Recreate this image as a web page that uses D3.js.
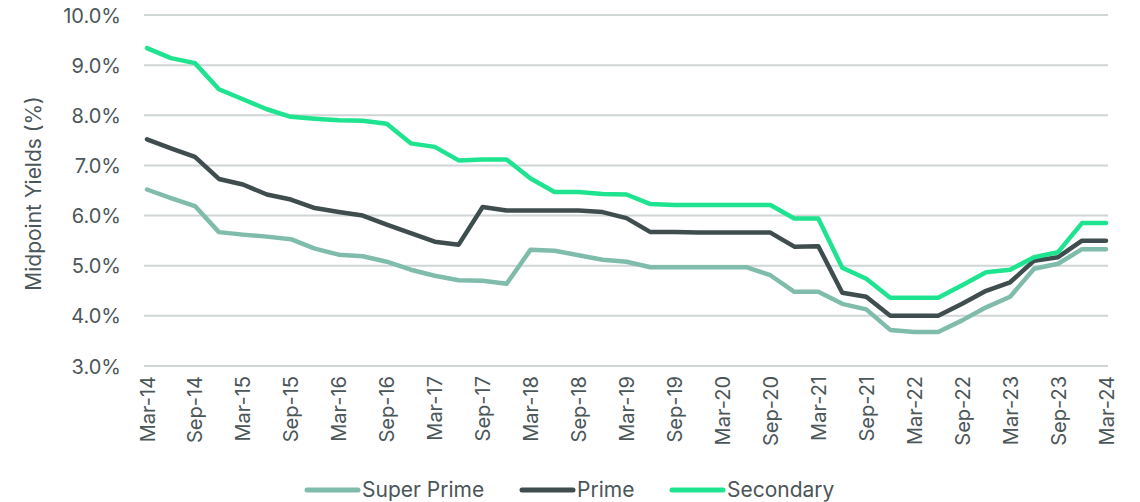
<!DOCTYPE html>
<html>
<head>
<meta charset="utf-8">
<script src="https://cdn.jsdelivr.net/npm/d3@7"></script>
<style>
  html, body { margin: 0; padding: 0; background: #ffffff; }
  svg { display: block; }
  text { font-family: "Inter", "Roboto", "Noto Sans", sans-serif; }
</style>
</head>
<body>
<svg id="chart" width="1140" height="502"></svg>
<script>
// Quarterly midpoint yields, Mar-14 to Mar-24
const quarters = [
  "Mar-14","Jun-14","Sep-14","Dec-14","Mar-15","Jun-15","Sep-15","Dec-15",
  "Mar-16","Jun-16","Sep-16","Dec-16","Mar-17","Jun-17","Sep-17","Dec-17",
  "Mar-18","Jun-18","Sep-18","Dec-18","Mar-19","Jun-19","Sep-19","Dec-19",
  "Mar-20","Jun-20","Sep-20","Dec-20","Mar-21","Jun-21","Sep-21","Dec-21",
  "Mar-22","Jun-22","Sep-22","Dec-22","Mar-23","Jun-23","Sep-23","Dec-23",
  "Mar-24"
];

const superPrime = [
  6.52, 6.35, 6.19, 5.67, 5.62, 5.58, 5.53, 5.34, 5.22, 5.19, 5.08,
  4.92, 4.80, 4.71, 4.70, 4.64, 5.32, 5.30, 5.21, 5.12, 5.08,
  4.97, 4.97, 4.97, 4.97, 4.97, 4.81, 4.48, 4.48, 4.24, 4.13,
  3.72, 3.68, 3.68, 3.91, 4.17, 4.38, 4.94, 5.04, 5.33, 5.33
];

const prime = [
  7.52, 7.34, 7.17, 6.73, 6.62, 6.42, 6.32, 6.15, 6.07, 6.00, 5.82,
  5.65, 5.48, 5.42, 6.17, 6.10, 6.10, 6.10, 6.10, 6.07, 5.95,
  5.67, 5.67, 5.66, 5.66, 5.66, 5.66, 5.38, 5.39, 4.46, 4.38,
  4.00, 4.00, 4.00, 4.24, 4.50, 4.67, 5.10, 5.17, 5.50, 5.50
];

const secondary = [
  9.34, 9.14, 9.04, 8.52, 8.32, 8.12, 7.97, 7.93, 7.90, 7.89, 7.83,
  7.44, 7.37, 7.10, 7.12, 7.12, 6.74, 6.47, 6.47, 6.43, 6.42,
  6.23, 6.21, 6.21, 6.21, 6.21, 6.21, 5.94, 5.94, 4.96, 4.74,
  4.36, 4.36, 4.36, 4.61, 4.87, 4.92, 5.17, 5.27, 5.85, 5.85
];

const yTicks = [3, 4, 5, 6, 7, 8, 9, 10];
const xTickLabels = quarters.filter((d, i) => i % 2 === 0);

const seriesNames = ["Super Prime", "Prime", "Secondary"];
const seriesColors = ["#80bcab", "#3f4d4f", "#1ee38f"];

const series = [
  { name: seriesNames[0], values: superPrime, color: seriesColors[0] },
  { name: seriesNames[1], values: prime, color: seriesColors[1] },
  { name: seriesNames[2], values: secondary, color: seriesColors[2] }
];

const svg = d3.select("#chart");
const gridLeft = 144, gridRight = 1108;
const plotTop = 15, plotBottom = 366;

const x = d3.scalePoint()
  .domain(quarters)
  .range([147, 1106]);

const y = d3.scaleLinear()
  .domain([3, 10])
  .range([plotBottom, plotTop]);

const textColor = "#4b5658";

// Horizontal gridlines
svg.append("g")
  .selectAll("line")
  .data(yTicks)
  .join("line")
  .attr("x1", gridLeft)
  .attr("x2", gridRight)
  .attr("y1", d => y(d))
  .attr("y2", d => y(d))
  .attr("stroke", "#d0d5d6")
  .attr("stroke-width", 2);

// Y axis labels
const yAxis = d3.axisLeft(y)
  .tickValues(yTicks)
  .tickFormat(d => d3.format(".1f")(d) + "%")
  .tickSize(0)
  .tickPadding(0);

svg.append("g")
  .attr("transform", `translate(${gridLeft - 23},0)`)
  .call(yAxis)
  .call(g => g.select(".domain").remove())
  .call(g => g.selectAll("text")
    .attr("fill", textColor)
    .style("font-size", "20px")
    .attr("dy", "0.35em"));

// X axis labels, rotated
const xAxis = d3.axisBottom(x)
  .tickValues(xTickLabels)
  .tickSize(0)
  .tickPadding(0);

svg.append("g")
  .attr("transform", `translate(0,${plotBottom + 10})`)
  .call(xAxis)
  .call(g => g.select(".domain").remove())
  .call(g => g.selectAll("text")
    .attr("fill", textColor)
    .style("font-size", "20px")
    .attr("text-anchor", "end")
    .attr("transform", "rotate(-90)")
    .attr("x", 0)
    .attr("y", 0)
    .attr("dx", 0)
    .attr("dy", "0.35em"));

// Y axis title
svg.append("text")
  .attr("transform", `translate(41,${(plotTop + plotBottom) / 2 + 3}) rotate(-90)`)
  .attr("text-anchor", "middle")
  .attr("fill", textColor)
  .style("font-size", "21px")
  .text("Midpoint Yields (%)");

// Series lines
const line = d3.line()
  .x((d, i) => x(quarters[i]))
  .y(d => y(d));

svg.append("g")
  .selectAll("path")
  .data(series)
  .join("path")
  .attr("d", d => line(d.values))
  .attr("fill", "none")
  .attr("stroke", d => d.color)
  .attr("stroke-width", 4.5)
  .attr("stroke-linejoin", "round")
  .attr("stroke-linecap", "round");

// Legend
const legendX = [307, 522, 672];
const legend = svg.append("g")
  .selectAll("g")
  .data(series)
  .join("g")
  .attr("transform", (d, i) => `translate(${legendX[i]},490)`);

legend.append("line")
  .attr("x1", 0)
  .attr("x2", 51)
  .attr("y1", 0)
  .attr("y2", 0)
  .attr("stroke", d => d.color)
  .attr("stroke-width", 5)
  .attr("stroke-linecap", "round");

legend.append("text")
  .attr("x", 55)
  .attr("y", 0)
  .attr("dy", "0.35em")
  .attr("fill", textColor)
  .style("font-size", "21px")
  .text(d => d.name);
</script>
</body>
</html>
